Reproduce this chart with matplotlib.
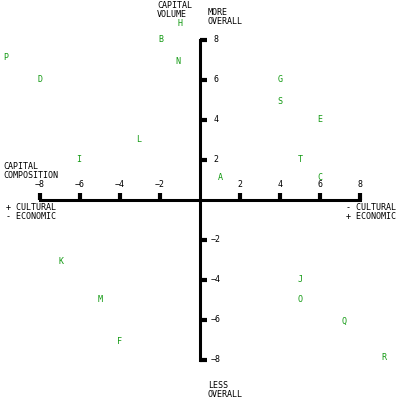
import matplotlib
matplotlib.use('Agg')
import matplotlib.pyplot as plt

# point labels and positions (composition, volume)
labels = list("HBNPDLIGSETACKMFJOQR")
xs = [-1, -1.95, -1.1, -9.7, -8, -3.05, -6.05, 4, 4, 6, 5, 1, 6, -6.95, -5, -4, 5, 5, 7.2, 9.2]
ys = [8.85, 8.05, 6.9, 7.1, 6.05, 3, 2.05, 6.05, 4.95, 4.05, 2, 1.1, 1.15, -3.1, -5, -7.05, -4, -5, -6.05, -7.9]
ticks = [-8, -6, -4, -2, 2, 4, 6, 8]

fnt = dict(family='DejaVu Sans Mono', fontsize=6)

fig = plt.figure(figsize=(4, 4), dpi=100)
ax = fig.add_axes([0, 0, 1, 1])
ax.set_xlim(-10, 10)
ax.set_ylim(-10, 10)
ax.axis('off')

# axes
ax.plot([-8, 8], [0, 0], color='black', lw=2.2, zorder=2)
ax.plot([0, 0], [-8, 8], color='black', lw=2.2, zorder=2)
for t in ticks:
    ax.plot([t, t], [0, 0.35], color='black', lw=3, solid_capstyle='butt')
    ax.text(t, 0.55, str(t).replace('-', '\u2212'), ha='center', va='bottom', **fnt)
    ax.plot([0, 0.35], [t, t], color='black', lw=3, solid_capstyle='butt')
    ax.text(0.8, t, str(t).replace('-', '\u2212'), ha='center', va='center', **fnt)

for lab, x, y in zip(labels, xs, ys):
    ax.text(x, y, lab, color='#119911', ha='center', va='center', **fnt)

ax.text(-2.15, 9.95, 'CAPITAL\nVOLUME', ha='left', va='top', linespacing=1.0, **fnt)
ax.text(0.4, 9.6, 'MORE\nOVERALL', ha='left', va='top', linespacing=1.0, **fnt)
ax.text(-9.85, 1.9, 'CAPITAL\nCOMPOSITION', ha='left', va='top', linespacing=1.0, **fnt)
ax.text(-9.7, -0.15, '+ CULTURAL\n- ECONOMIC', ha='left', va='top', linespacing=1.0, **fnt)
ax.text(9.8, -0.15, '- CULTURAL\n+ ECONOMIC', ha='right', va='top', linespacing=1.0, **fnt)
ax.text(0.4, -9.05, 'LESS\nOVERALL', ha='left', va='top', linespacing=1.0, **fnt)

fig.savefig('out.png', facecolor='white')
